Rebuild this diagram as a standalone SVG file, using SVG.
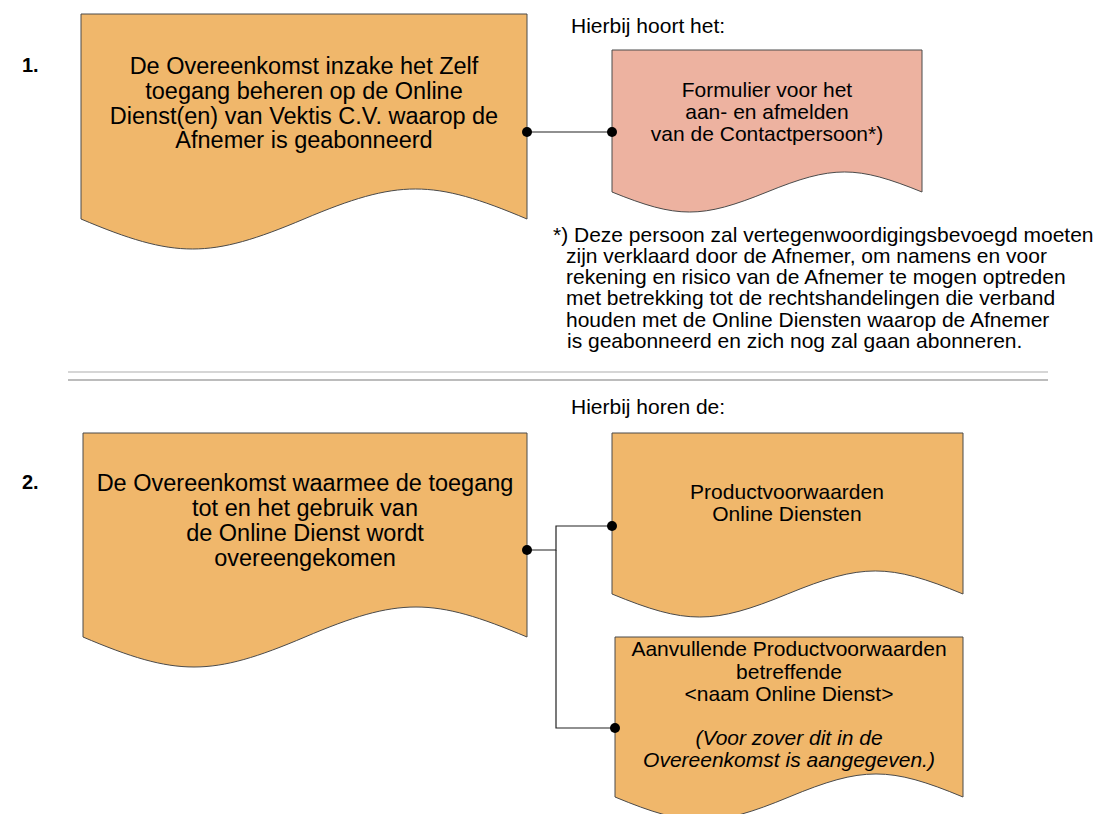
<svg xmlns="http://www.w3.org/2000/svg" width="1104" height="814" viewBox="0 0 1104 814">
<style>
  .doc { stroke: #4a4a4a; stroke-width: 1; }
  .orange { fill: #F0B76B; }
  .salmon { fill: #EDB2A0; }
  text { font-family: "Liberation Sans", Arial, sans-serif; fill: #000; }
  .big { font-size: 23.5px; text-anchor: middle; }
  .mid { font-size: 21px; text-anchor: middle; }
  .it { font-style: italic; }
  .note { font-size: 21px; }
  .num { font-size: 20px; font-weight: bold; }
  .conn { fill: none; stroke: #222; stroke-width: 1.2; }
  .dot { fill: #000; }
  .sep1 { stroke: #c8c8c8; stroke-width: 1.5; }
  .sep2 { stroke: #a6a6a6; stroke-width: 1.5; }
</style>
<rect width="1104" height="814" fill="#fff"/>

<g id="labels">
  <text class="num" x="22" y="72">1.</text>
  <text class="num" x="22" y="489">2.</text>
  <text class="note" x="571" y="33">Hierbij hoort het:</text>
  <text class="note" x="571" y="414">Hierbij horen de:</text>
</g>

<g id="footnote">
  <text class="note" x="553" y="242">*) Deze persoon zal vertegenwoordigingsbevoegd moeten</text>
  <text class="note" x="566" y="263">zijn verklaard door de Afnemer, om namens en voor</text>
  <text class="note" x="566" y="284">rekening en risico van de Afnemer te mogen optreden</text>
  <text class="note" x="566" y="305">met betrekking tot de rechtshandelingen die verband</text>
  <text class="note" x="566" y="327">houden met de Online Diensten waarop de Afnemer</text>
  <text class="note" x="567" y="348">is geabonneerd en zich nog zal gaan abonneren.</text>
</g>

<g id="separator">
  <line class="sep1" x1="68" y1="372" x2="1048" y2="372"/>
  <line class="sep2" x1="68" y1="380" x2="1048" y2="380"/>
</g>

<g id="node1">
  <path class="doc orange" d="M81,14 H527 V219 C432.4,179 398.6,179 304,219 C209.4,259 175.6,259 81,219 Z"/>
  <text class="big" x="304" y="74">De Overeenkomst inzake het Zelf</text>
  <text class="big" x="304" y="99">toegang beheren op de Online</text>
  <text class="big" x="304" y="124">Dienst(en) van Vektis C.V. waarop de</text>
  <text class="big" x="304" y="148">Afnemer is geabonneerd</text>
</g>

<g id="node2">
  <path class="doc salmon" d="M612,50 H922 V192 C856.3,165.3 832.7,165.3 767,192 C701.3,218.7 677.7,218.7 612,192 Z"/>
  <text class="mid" x="767" y="97">Formulier voor het</text>
  <text class="mid" x="767" y="119">aan- en afmelden</text>
  <text class="mid" x="767" y="141">van de Contactpersoon*)</text>
</g>

<g id="node3">
  <path class="doc orange" d="M83,433 H527 V637 C432.9,597 399.1,597 305,637 C210.9,677 177.1,677 83,637 Z"/>
  <text class="big" x="305" y="491">De Overeenkomst waarmee de toegang</text>
  <text class="big" x="305" y="516">tot en het gebruik van</text>
  <text class="big" x="305" y="541">de Online Dienst wordt</text>
  <text class="big" x="305" y="566">overeengekomen</text>
</g>

<g id="node4">
  <path class="doc orange" d="M612,433 H963 V594 C888.6,563.3 862.1,563.3 787.5,594 C712.9,624.7 686.4,624.7 612,594 Z"/>
  <text class="mid" x="787" y="499">Productvoorwaarden</text>
  <text class="mid" x="787" y="521">Online Diensten</text>
</g>

<g id="node5">
  <path class="doc orange" d="M615,637 H963 V797 C889.2,766.3 862.8,766.3 789,797 C715.2,827.7 688.8,827.7 615,797 Z"/>
  <text class="mid" x="789" y="656">Aanvullende Productvoorwaarden</text>
  <text class="mid" x="789" y="679">betreffende</text>
  <text class="mid" x="789" y="701">&lt;naam Online Dienst&gt;</text>
  <text class="mid it" x="789" y="745">(Voor zover dit in de</text>
  <text class="mid it" x="789" y="767">Overeenkomst is aangegeven.)</text>
</g>

<g id="connectors">
  <line class="conn" x1="527" y1="132" x2="612" y2="132"/>
  <polyline class="conn" points="527,550 556,550 556,526 612,526"/>
  <polyline class="conn" points="556,550 556,728 615,728"/>
  <circle class="dot" cx="527" cy="132" r="5"/>
  <circle class="dot" cx="612" cy="132" r="5"/>
  <circle class="dot" cx="527" cy="550" r="5"/>
  <circle class="dot" cx="612" cy="526" r="5"/>
  <circle class="dot" cx="615" cy="728" r="5"/>
</g>
</svg>
